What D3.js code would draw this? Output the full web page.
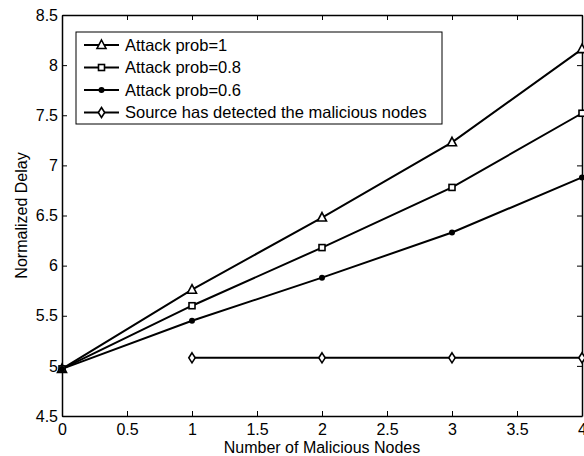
<!DOCTYPE html>
<html>
<head>
<meta charset="utf-8">
<script src="https://cdn.jsdelivr.net/npm/d3@7"></script>
<style>
  html, body { margin: 0; padding: 0; background: #fff; }
  svg { display: block; font-family: "Liberation Sans", Arial, Helvetica, sans-serif; }
</style>
</head>
<body>
<svg id="chart" width="584" height="456"></svg>
<script>
// Number of malicious nodes on the x axis
const nodes = [0, 1, 2, 3, 4];
const detectedNodes = [1, 2, 3, 4];

// Normalized delay for each attack probability
const prob1 = [4.97, 5.76, 6.48, 7.23, 8.16];
const prob08 = [4.97, 5.60, 6.18, 6.78, 7.52];
const prob06 = [4.97, 5.45, 5.88, 6.33, 6.88];
const detected = [5.08, 5.08, 5.08, 5.08];

const seriesNames = [
  "Attack prob=1",
  "Attack prob=0.8",
  "Attack prob=0.6",
  "Source has detected the malicious nodes"
];

const xTicks = [0, 0.5, 1, 1.5, 2, 2.5, 3, 3.5, 4];
const yTicks = [4.5, 5, 5.5, 6, 6.5, 7, 7.5, 8, 8.5];

const svg = d3.select("#chart");
const m = { left: 62, right: 582, top: 15, bottom: 416 };

const x = d3.scaleLinear().domain([0, 4]).range([m.left, m.right]);
const y = d3.scaleLinear().domain([4.5, 8.5]).range([m.bottom, m.top]);

const fmt = d => String(d);
const TICK = 5;
const FONT = "16px";

// Axes with inward ticks on all four sides (boxed frame)
const gx = svg.append("g").attr("transform", `translate(0,${m.bottom})`)
  .call(d3.axisBottom(x).tickValues(xTicks).tickFormat(fmt).tickSizeInner(-TICK).tickSizeOuter(0).tickPadding(8));
const gxTop = svg.append("g").attr("transform", `translate(0,${m.top})`)
  .call(d3.axisTop(x).tickValues(xTicks).tickFormat("").tickSizeInner(-TICK).tickSizeOuter(0));
const gy = svg.append("g").attr("transform", `translate(${m.left},0)`)
  .call(d3.axisLeft(y).tickValues(yTicks).tickFormat(fmt).tickSizeInner(-TICK).tickSizeOuter(0).tickPadding(4));
const gyR = svg.append("g").attr("transform", `translate(${m.right},0)`)
  .call(d3.axisRight(y).tickValues(yTicks).tickFormat("").tickSizeInner(-TICK).tickSizeOuter(0));

[gx, gxTop, gy, gyR].forEach(g => {
  g.select(".domain").attr("stroke", "#000").attr("stroke-width", 1.5);
  g.selectAll(".tick line").attr("stroke", "#000").attr("stroke-width", 1);
  g.selectAll(".tick text").attr("fill", "#000").style("font-size", FONT);
});
gx.selectAll(".tick text").attr("dy", "0.71em");

// Axis titles
svg.append("text")
  .attr("x", (m.left + m.right) / 2).attr("y", 453)
  .attr("text-anchor", "middle").style("font-size", FONT)
  .text("Number of Malicious Nodes");
svg.append("text")
  .attr("transform", `translate(27,${(m.top + m.bottom) / 2}) rotate(-90)`)
  .attr("text-anchor", "middle").style("font-size", FONT)
  .text("Normalized Delay");

// Marker shapes
function drawMarker(g, type, cx, cy) {
  if (type === "triangle") {
    g.append("path")
      .attr("d", `M${cx},${cy - 5}L${cx + 4.5},${cy + 3.5}L${cx - 4.5},${cy + 3.5}Z`)
      .attr("fill", "#fff").attr("stroke", "#000").attr("stroke-width", 1.6);
  } else if (type === "square") {
    g.append("rect").attr("x", cx - 3).attr("y", cy - 3).attr("width", 6).attr("height", 6)
      .attr("fill", "#fff").attr("stroke", "#000").attr("stroke-width", 1.6);
  } else if (type === "circle") {
    g.append("circle").attr("cx", cx).attr("cy", cy).attr("r", 3).attr("fill", "#000");
  } else if (type === "diamond") {
    g.append("path")
      .attr("d", `M${cx},${cy - 5}L${cx + 3.2},${cy}L${cx},${cy + 5}L${cx - 3.2},${cy}Z`)
      .attr("fill", "#fff").attr("stroke", "#000").attr("stroke-width", 1.6);
  }
}

const series = [
  { name: seriesNames[0], xs: nodes, ys: prob1, marker: "triangle" },
  { name: seriesNames[1], xs: nodes, ys: prob08, marker: "square" },
  { name: seriesNames[2], xs: nodes, ys: prob06, marker: "circle" },
  { name: seriesNames[3], xs: detectedNodes, ys: detected, marker: "diamond" }
];

const line = d3.line().x(d => x(d[0])).y(d => y(d[1]));
const plot = svg.append("g");

series.forEach(s => {
  const pts = s.xs.map((v, i) => [v, s.ys[i]]);
  plot.append("path").attr("d", line(pts))
    .attr("fill", "none").attr("stroke", "#000").attr("stroke-width", 2);
});
series.forEach(s => {
  s.xs.forEach((v, i) => drawMarker(plot, s.marker, x(v), y(s.ys[i])));
});

// Legend
const leg = svg.append("g");
leg.append("rect").attr("x", 76).attr("y", 32).attr("width", 366).attr("height", 92)
  .attr("fill", "#fff").attr("stroke", "#000").attr("stroke-width", 1);
const rowY = [45, 67.5, 90, 112.5];
series.forEach((s, i) => {
  const yy = rowY[i];
  leg.append("line").attr("x1", 84).attr("x2", 119).attr("y1", yy).attr("y2", yy)
    .attr("stroke", "#000").attr("stroke-width", 2);
  drawMarker(leg, s.marker, 101.5, yy);
  leg.append("text").attr("x", 125).attr("y", yy).attr("dy", "0.35em")
    .style("font-size", "16.5px").text(s.name);
});
</script>
</body>
</html>
